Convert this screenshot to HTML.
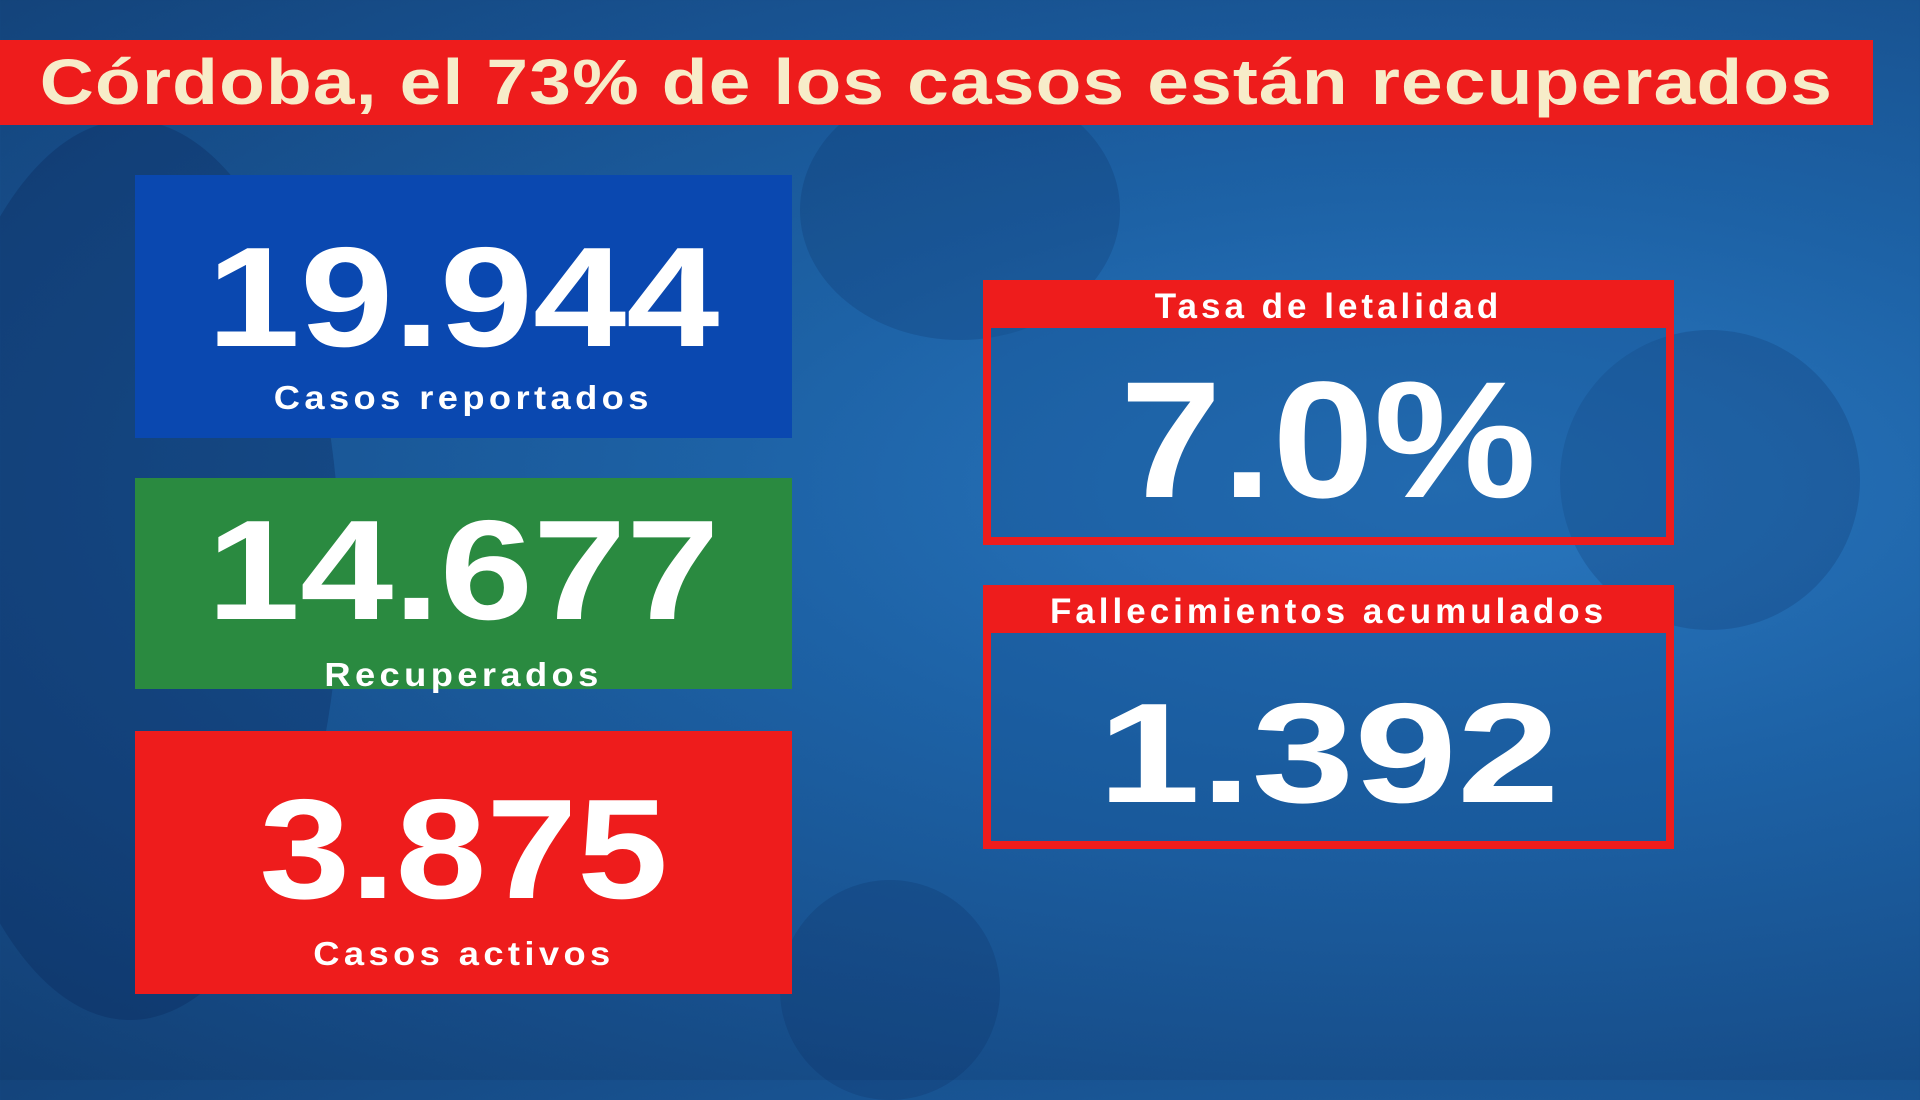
<!DOCTYPE html>
<html><head><meta charset="utf-8"><style>
*{margin:0;padding:0;box-sizing:border-box}
body{width:1920px;height:1080px;overflow:hidden;position:relative;font-family:"Liberation Sans",sans-serif;
background:radial-gradient(ellipse at 75% 45%,#2a78c0 0%,#1d62a6 35%,#174f8c 70%,#123f74 100%);}
.abs{position:absolute}
.title{left:0;top:40px;width:1873px;height:85px;background:#ee1c1c;color:#f7ecc9;font-weight:bold;font-size:64px;line-height:85px;text-align:center;letter-spacing:1px}
.box{left:135px;width:657px;color:#fff;text-align:center}
.num{font-weight:bold;font-size:142px;display:inline-block;transform:scaleX(1.18);line-height:1}
.lab{font-weight:bold;font-size:33px;letter-spacing:4px;color:#fff;display:inline-block;transform:scaleX(1.1)}
.rb{left:983px;width:691px;border:8px solid #ee1c1c;background:rgba(23,85,150,0.4)}
.rh{background:#ee1c1c;color:#fff;font-weight:bold;font-size:35px;letter-spacing:4px;text-align:center;line-height:42px}
.blob{border-radius:50%;background:rgba(10,40,90,0.2)}
</style></head><body>
<div class="abs blob" style="left:-80px;top:120px;width:420px;height:900px;background:rgba(10,35,85,0.3)"></div>
<div class="abs blob" style="left:800px;top:80px;width:320px;height:260px"></div>
<div class="abs blob" style="left:1560px;top:330px;width:300px;height:300px"></div>
<div class="abs blob" style="left:780px;top:880px;width:220px;height:220px"></div>
<div class="abs title"><span style="display:inline-block;transform:scaleX(1.17)">Córdoba, el 73% de los casos están recuperados</span></div>

<div class="abs box" style="top:175px;height:263px;background:#0a48b0">
<div style="margin-top:52px"><span class="num">19.944</span></div>
<div><span class="lab" style="margin-top:10px">Casos reportados</span></div></div>

<div class="abs box" style="top:478px;height:211px;background:#2a8a40">
<div style="margin-top:22px"><span class="num">14.677</span></div>
<div><span class="lab" style="margin-top:14px">Recuperados</span></div></div>

<div class="abs box" style="top:731px;height:263px;background:#ee1c1c">
<div style="margin-top:48px"><span class="num" style="transform:scaleX(1.15)">3.875</span></div>
<div><span class="lab" style="margin-top:14px">Casos activos</span></div></div>

<div class="abs rb" style="top:280px;height:265px">
<div class="rh" style="height:42px;margin:-2px -2px 0">Tasa de letalidad</div>
<div style="text-align:center;color:#fff;margin-top:30px"><span class="num" style="font-size:166px;transform:scaleX(1.1)">7.0%</span></div>
</div>

<div class="abs rb" style="top:585px;height:264px">
<div class="rh" style="height:42px;margin:-2px -2px 0">Fallecimientos acumulados</div>
<div style="text-align:center;color:#fff;margin-top:50px"><span class="num" style="transform:scaleX(1.3)">1.392</span></div>
</div>
</body></html>
